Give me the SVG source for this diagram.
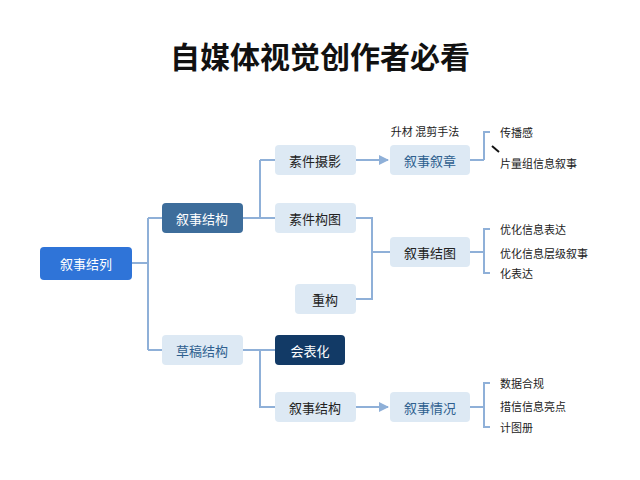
<svg xmlns="http://www.w3.org/2000/svg" width="640" height="480" viewBox="0 0 640 480">
<style>
text{font-family:"Noto Sans CJK SC","Noto Sans",sans-serif;}
.t{font-size:30px;font-weight:bold;fill:#111;}
.n{fill:#dde9f4;}
.l{font-size:13px;fill:#222;text-anchor:middle;dominant-baseline:central;}
.lb{font-size:13px;fill:#2e5f8f;text-anchor:middle;dominant-baseline:central;}
.w{font-size:13px;fill:#fff;text-anchor:middle;dominant-baseline:central;}
.s{font-size:11px;fill:#222;dominant-baseline:central;}
.c{fill:none;stroke:#8fb0d8;stroke-width:2;}
</style>
<defs><marker id="a" markerWidth="10" markerHeight="10" refX="9" refY="5" orient="auto" markerUnits="userSpaceOnUse"><path d="M0,0L10,5L0,10z" fill="#8fb0d8"/></marker></defs>
<rect width="640" height="480" fill="#fff"/>
<text class="t" x="320" y="68" text-anchor="middle">自媒体视觉创作者必看</text>
<g id="connectors">
<path class="c" d="M132,263H148M148,218V350M148,218H162M148,350H162"/>
<path class="c" d="M243,218H260M260,160V218M260,160H275M260,218H275"/>
<path class="c" d="M356,160H388" marker-end="url(#a)"/>
<path class="c" d="M356,218H372V299H356M372,252H390"/>
<path class="c" d="M243,350H275M260,350V407H275"/>
<path class="c" d="M356,407H388" marker-end="url(#a)"/>
<path class="c" d="M470,160H484M490,132H484V160"/>
<path class="c" d="M470,252H484M490,229H484V273H490"/>
<path class="c" d="M470,407H484M490,383H484V427H490"/>
<path d="M492,146L499,152" stroke="#111" stroke-width="2"/>
</g>
<g id="n1"><rect x="40" y="247" width="92" height="33" rx="4" fill="#2f74d8"/><text class="w" x="86" y="263">叙事结列</text></g>
<g id="n2"><rect x="162" y="203" width="81" height="30" rx="4" fill="#3d6d9b"/><text class="w" x="202" y="218">叙事结构</text></g>
<g id="n3"><rect class="n" x="162" y="335" width="81" height="30" rx="4"/><text class="lb" x="202" y="350">草稿结构</text></g>
<g id="n4"><rect class="n" x="275" y="145" width="81" height="30" rx="4"/><text class="l" x="315" y="160">素件摄影</text></g>
<g id="n5"><rect class="n" x="275" y="203" width="81" height="30" rx="4"/><text class="l" x="315" y="218">素件构图</text></g>
<g id="n6"><rect class="n" x="390" y="145" width="80" height="30" rx="4"/><text class="lb" x="430" y="160">叙事叙章</text></g>
<g id="n7"><rect class="n" x="390" y="237" width="80" height="30" rx="4"/><text class="l" x="430" y="252">叙事结图</text></g>
<g id="n8"><rect class="n" x="295" y="284" width="61" height="30" rx="4"/><text class="l" x="325" y="299">重构</text></g>
<g id="n9"><rect x="275" y="335" width="70" height="30" rx="4" fill="#123a66"/><text class="w" x="310" y="350">会表化</text></g>
<g id="n10"><rect class="n" x="275" y="392" width="81" height="30" rx="4"/><text class="l" x="315" y="407">叙事结构</text></g>
<g id="n11"><rect class="n" x="390" y="392" width="80" height="30" rx="4"/><text class="lb" x="430" y="407">叙事情况</text></g>
<text class="s" x="425" y="131" text-anchor="middle">升材 混剪手法</text>
<text class="s" x="500" y="132">传播感</text>
<text class="s" x="500" y="163">片量组信息叙事</text>
<text class="s" x="500" y="229">优化信息表达</text>
<text class="s" x="500" y="253">优化信息层级叙事</text>
<text class="s" x="500" y="273">化表达</text>
<text class="s" x="500" y="383">数据合规</text>
<text class="s" x="500" y="406">措信信息亮点</text>
<text class="s" x="500" y="427">计图册</text>
</svg>
